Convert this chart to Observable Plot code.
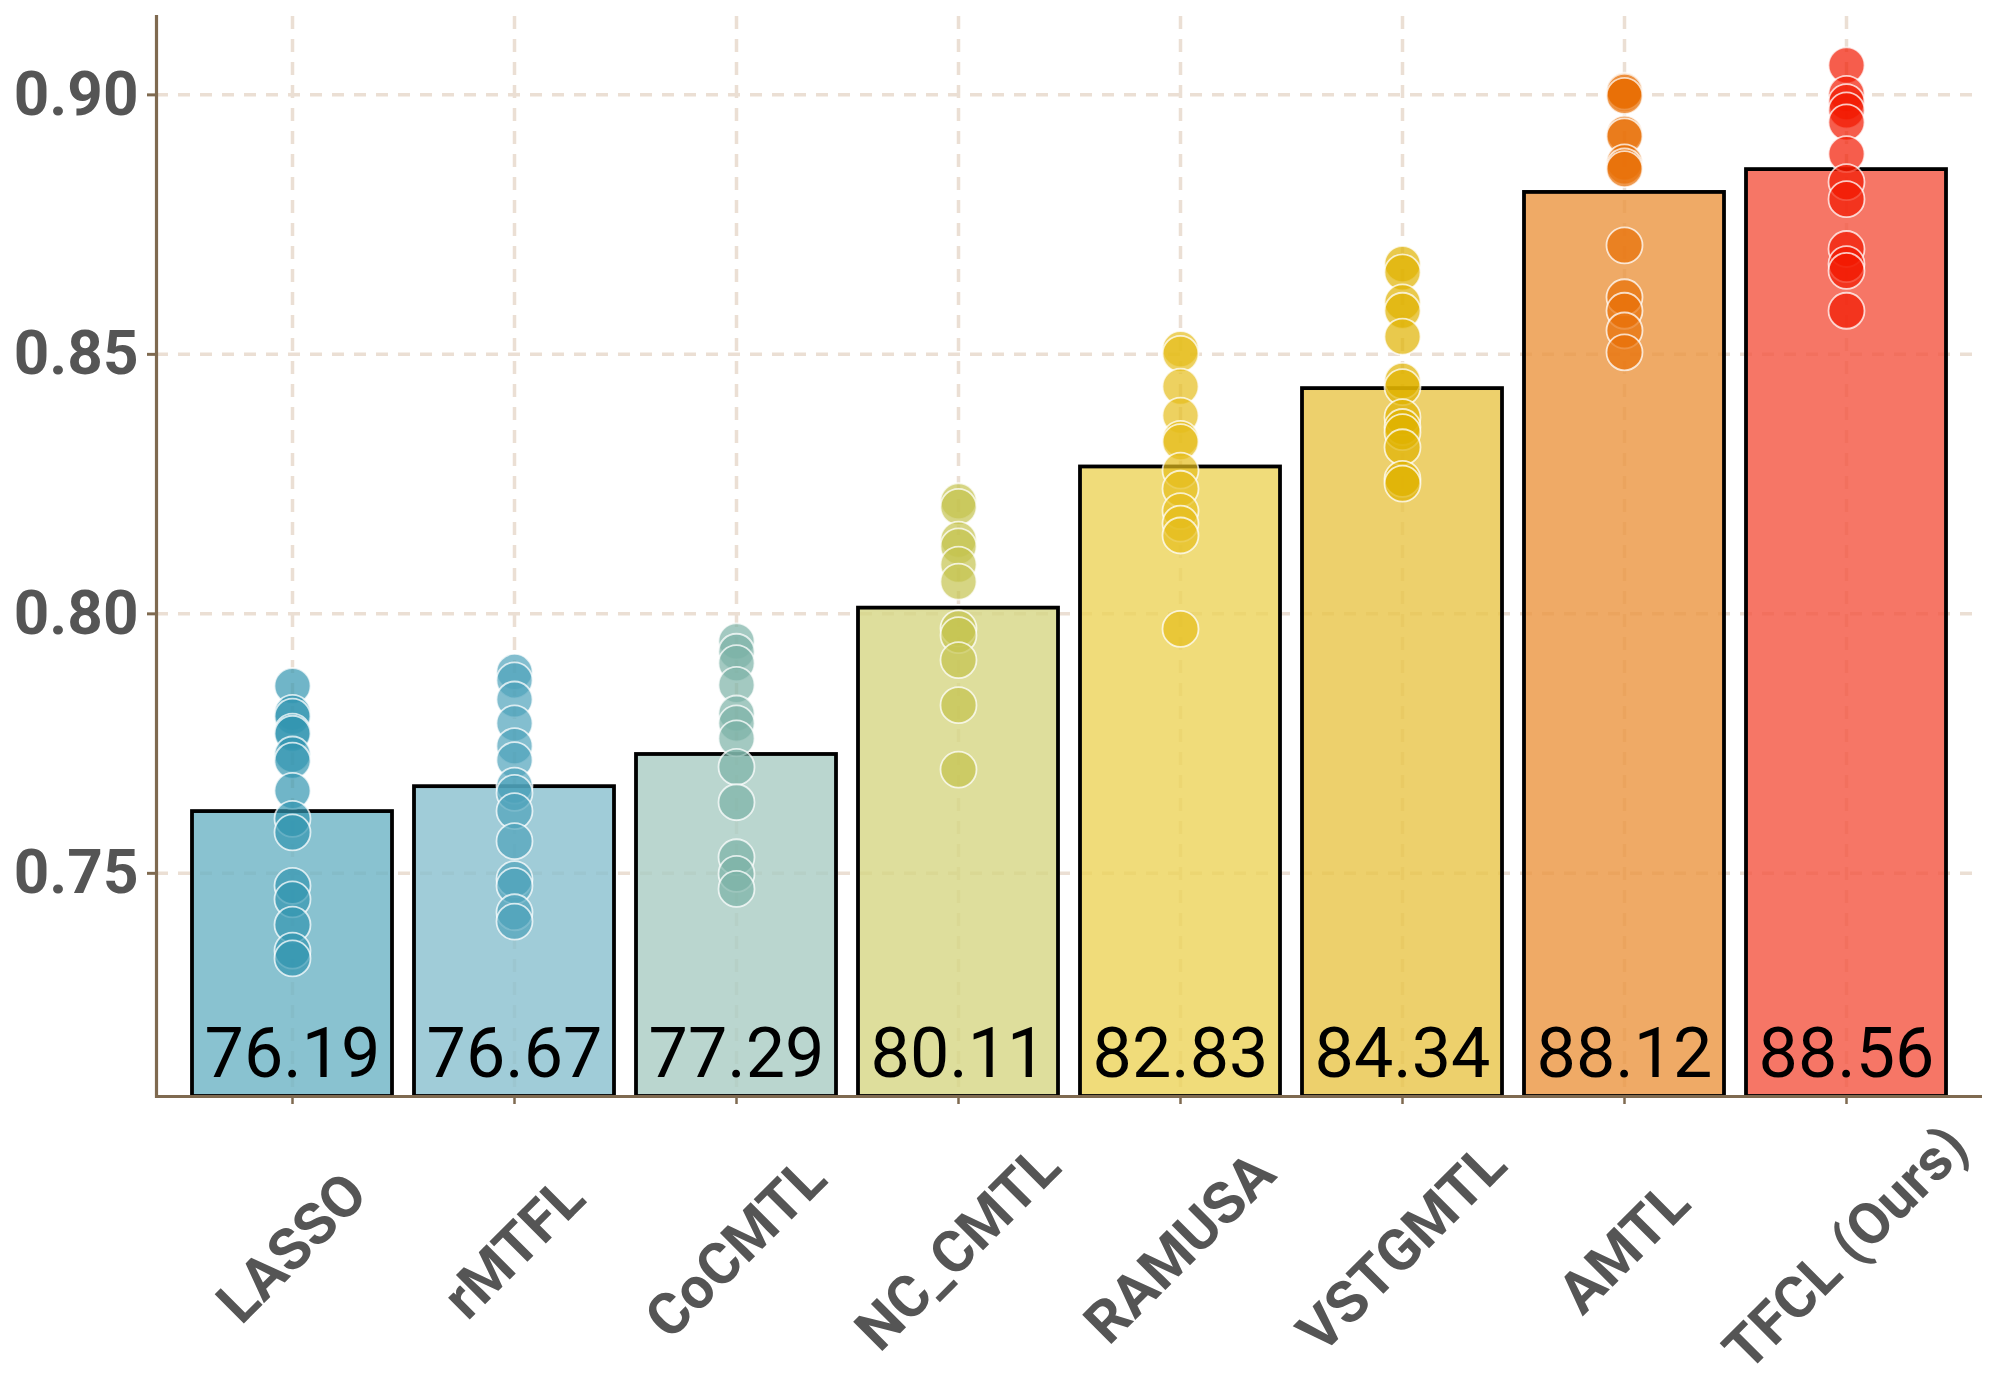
<!DOCTYPE html>
<html><head><meta charset="utf-8">
<script src="https://cdn.jsdelivr.net/npm/d3@7"></script>
<script src="https://cdn.jsdelivr.net/npm/@observablehq/plot@0.6"></script>
<style>body{margin:0;background:#fff} svg{display:block}</style>
</head><body><div id="chart"></div>
<script>
const methods = ["LASSO", "rMTFL", "CoCMTL", "NC_CMTL", "RAMUSA", "VSTGMTL", "AMTL", "TFCL (Ours)"];
const meanScores = [76.19, 76.67, 77.29, 80.11, 82.83, 84.34, 88.12, 88.56];

const runsLASSO = [0.7861, 0.7809, 0.7802, 0.7773, 0.7769, 0.7729, 0.7717, 0.7659, 0.7605, 0.7579, 0.7476, 0.7450, 0.7401, 0.7351, 0.7336];
const runsRMTFL = [0.7888, 0.7872, 0.7835, 0.7789, 0.7745, 0.7718, 0.7669, 0.7655, 0.7620, 0.7562, 0.7489, 0.7476, 0.7425, 0.7407];
const runsCoCMTL = [0.7947, 0.7927, 0.7905, 0.7863, 0.7808, 0.7789, 0.7760, 0.7705, 0.7637, 0.7531, 0.7499, 0.7470];
const runsNCCMTL = [0.8217, 0.8206, 0.8143, 0.8130, 0.8095, 0.8062, 0.7972, 0.7959, 0.7911, 0.7824, 0.7700];
const runsRAMUSA = [0.8510, 0.8501, 0.8438, 0.8382, 0.8337, 0.8331, 0.8276, 0.8241, 0.8198, 0.8174, 0.8151, 0.7971];
const runsVSTGMTL = [0.8674, 0.8658, 0.8600, 0.8584, 0.8534, 0.8449, 0.8437, 0.8379, 0.8360, 0.8350, 0.8321, 0.8260, 0.8251];
const runsAMTL = [0.9008, 0.9002, 0.9006, 0.8998, 0.8925, 0.8920, 0.8870, 0.8862, 0.8857, 0.8710, 0.8610, 0.8584, 0.8546, 0.8504];
const runsTFCL = [0.9057, 0.9002, 0.8986, 0.8970, 0.8947, 0.8886, 0.8832, 0.8799, 0.8703, 0.8674, 0.8661, 0.8584];

const yTicks = [0.75, 0.80, 0.85, 0.90];
const yDomain = [0.7070, 0.9151];

const barColors = ["#6cb3c4", "#88bfce", "#a9ccc3", "#d6d683", "#ecd359", "#e9c447", "#eb9540", "#f45440"];
const pointColors = ["#3396b0", "#4fa3ba", "#7cb2a6", "#c5c34f", "#e5be1c", "#dfb200", "#e86f05", "#f21800"];

const runs = [runsLASSO, runsRMTFL, runsCoCMTL, runsNCCMTL, runsRAMUSA, runsVSTGMTL, runsAMTL, runsTFCL];
const bars = methods.map((m, i) => ({method: m, value: meanScores[i] / 100, label: meanScores[i].toFixed(2), color: barColors[i]}));
const points = methods.flatMap((m, i) => runs[i].map(v => ({method: m, value: v, color: pointColors[i]})));

const brown = "#7f6a50";
const gridColor = "#ebdfd4";

const chart = Plot.plot({
  width: 2000,
  height: 1400,
  marginLeft: 156,
  marginRight: 18,
  marginTop: 16,
  marginBottom: 304,
  style: {fontFamily: "Roboto, sans-serif", background: "white", overflow: "visible"},
  x: {domain: methods, paddingInner: 0.1, paddingOuter: 0.147},
  y: {domain: yDomain},
  marks: [
    Plot.gridY(yTicks, {stroke: gridColor, strokeOpacity: 1, strokeWidth: 3.5, strokeDasharray: "12,10"}),
    Plot.gridX(methods, {stroke: gridColor, strokeOpacity: 1, strokeWidth: 3.5, strokeDasharray: "13,10"}),
    Plot.barY(bars, {x: "method", y1: yDomain[0], y2: "value", fill: "color", fillOpacity: 0.8, stroke: "black", strokeWidth: 3.8}),
    Plot.dot(points, {x: "method", y: "value", r: 18, fill: "color", fillOpacity: 0.7, stroke: "white", strokeOpacity: 0.75, strokeWidth: 1.8}),
    Plot.text(bars, {x: "method", frameAnchor: "bottom", text: "label", dy: -20, lineAnchor: "bottom", fontSize: 70, fill: "black"}),
    Plot.ruleY([yDomain[0]], {stroke: brown, strokeWidth: 3.2}),
    Plot.frame({anchor: "left", stroke: brown, strokeWidth: 3.2}),
    Plot.axisY({ticks: yTicks, tickFormat: d => d.toFixed(2), tickSize: 9, tickPadding: 9, fontSize: 62, fontWeight: "bold", fill: "#555", stroke: brown, strokeWidth: 3, label: null}),
    Plot.axisX({tickSize: 8, tickFormat: () => "", stroke: brown, strokeWidth: 2.5, label: null}),
    Plot.text(methods, {x: d => d, frameAnchor: "bottom", dy: 152, rotate: -45, textAnchor: "middle", lineAnchor: "middle", fontSize: 58, fontWeight: "bold", fill: "#555"})
  ]
});
document.getElementById("chart").appendChild(chart);
</script>
</body></html>
